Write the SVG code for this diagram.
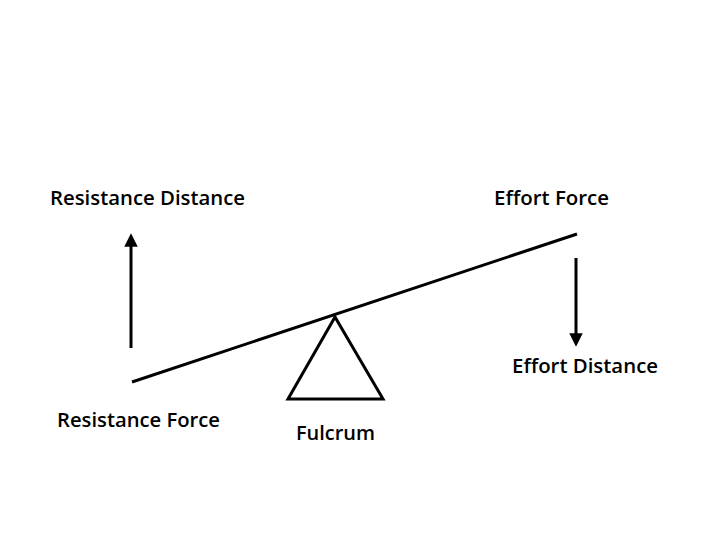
<svg xmlns="http://www.w3.org/2000/svg" width="720" height="540" viewBox="0 0 720 540">
<style>
text{font-family:"Open Sans","Liberation Sans",sans-serif;font-size:19px;font-weight:600;fill:#000}
.l{stroke:#000;stroke-width:3;fill:none}
</style>
<defs>
<marker id="ah" viewBox="0 0 10 10" refX="5" refY="5" markerWidth="4.5" markerHeight="4.5" orient="auto"><path d="M0,0L10,5L0,10z" fill="#000"/></marker>
</defs>
<rect width="720" height="540" fill="#fff"/>
<g id="connectors">
<line class="l" x1="131" y1="348" x2="131" y2="240" marker-end="url(#ah)"/>
<line class="l" x1="576" y1="258" x2="576" y2="340" marker-end="url(#ah)"/>
</g>
<g id="lever"><line class="l" x1="132" y1="382" x2="577" y2="234"/></g>
<g id="fulcrum-shape"><polygon class="l" points="335,317 288,399 383,399"/></g>
<g id="resistance-distance"><text x="50" y="205" textLength="195" lengthAdjust="spacingAndGlyphs">Resistance Distance</text></g>
<g id="effort-force"><text x="494" y="205" textLength="115" lengthAdjust="spacingAndGlyphs">Effort Force</text></g>
<g id="effort-distance"><text x="512" y="373" textLength="146" lengthAdjust="spacingAndGlyphs">Effort Distance</text></g>
<g id="resistance-force"><text x="57" y="427" textLength="163" lengthAdjust="spacingAndGlyphs">Resistance Force</text></g>
<g id="fulcrum"><text x="296" y="440" textLength="79" lengthAdjust="spacingAndGlyphs">Fulcrum</text></g>
</svg>
